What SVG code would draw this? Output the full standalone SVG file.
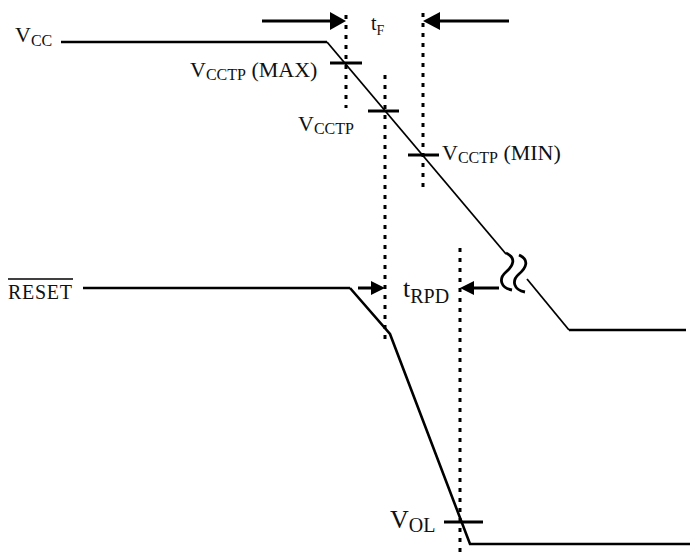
<svg xmlns="http://www.w3.org/2000/svg" width="699" height="553" viewBox="0 0 699 553">
<style>
.sig{fill:none;stroke:#000;stroke-width:2.6;stroke-linejoin:miter}
.slope{fill:none;stroke:#000;stroke-width:1.8}
.tick{stroke:#000;stroke-width:3}
.dot{stroke:#000;stroke-width:3;stroke-dasharray:4 6}
.shaft{stroke:#000;stroke-width:3}
.head{fill:#000}
text{font-family:"Liberation Serif","DejaVu Serif",serif;fill:#111}
.sq{fill:none;stroke:#000;stroke-width:2.8}
</style>
<rect width="699" height="553" fill="#fff"/>
<g id="guides">
<line class="dot" x1="346" y1="15" x2="346" y2="108"/>
<line class="dot" x1="385" y1="75" x2="385" y2="343"/>
<line class="dot" x1="423" y1="13" x2="423" y2="188"/>
<line class="dot" x1="460" y1="248" x2="460" y2="553"/>
</g>
<g id="vcc">
<polyline class="sig" points="61,42 327,42"/>
<line class="slope" x1="327" y1="42" x2="506" y2="254"/>
<path class="sq" d="M506 253 C517 258 513 266 506 272 C498 279 501 288 512 290"/>
<path class="sq" d="M519 255 C530 260 526 268 519 274 C511 281 514 290 525 292"/>
<line class="slope" x1="527" y1="279" x2="569" y2="330"/>
<line class="sig" x1="569" y1="330" x2="686" y2="330"/>
<text x="15" y="42" font-size="22">V<tspan font-size="16" dy="4">CC</tspan></text>
</g>
<g id="reset">
<line class="sig" x1="83" y1="288" x2="350" y2="288"/>
<polyline class="sig" points="350,288 390,334 470,544 690,544"/>
<text x="8" y="299" font-size="20" textLength="64">RESET</text>
<line x1="8" y1="279" x2="73" y2="279" stroke="#000" stroke-width="1.6"/>
</g>
<g id="ticks">
<line class="tick" x1="330" y1="63" x2="362" y2="63"/>
<line class="tick" x1="368" y1="111" x2="399" y2="111"/>
<line class="tick" x1="408" y1="155" x2="439" y2="155"/>
<line class="tick" x1="444" y1="522" x2="483" y2="522"/>
</g>
<g id="labels">
<text x="190" y="77" font-size="22">V<tspan font-size="16" dy="3">CCTP</tspan><tspan dy="-3"> (MAX)</tspan></text>
<text x="298" y="131" font-size="22">V<tspan font-size="16" dy="3">CCTP</tspan></text>
<text x="442" y="160" font-size="22">V<tspan font-size="16" dy="3">CCTP</tspan><tspan dy="-3"> (MIN)</tspan></text>
<text x="371" y="30" font-size="20">t<tspan font-size="14" dy="5">F</tspan></text>
<text x="403" y="297" font-size="26">t<tspan font-size="20" dy="6">RPD</tspan></text>
<text x="390" y="528" font-size="26">V<tspan font-size="20" dy="4">OL</tspan></text>
</g>
<g id="connectors">
<line class="shaft" x1="262" y1="21" x2="332" y2="21"/>
<polygon class="head" points="346,21 330,12 330,30"/>
<line class="shaft" x1="509" y1="21" x2="438" y2="21"/>
<polygon class="head" points="423,21 440,12 440,30"/>
<line class="shaft" x1="358" y1="288" x2="374" y2="288"/>
<polygon class="head" points="385,288 371,281 371,295"/>
<line class="shaft" x1="499" y1="288" x2="470" y2="288"/>
<polygon class="head" points="460,288 474,281 474,295"/>
</g>
</svg>
